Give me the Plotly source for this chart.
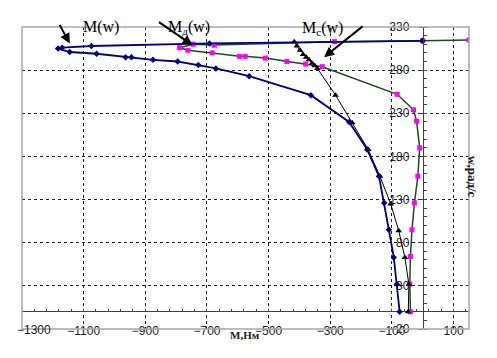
import plotly.graph_objects as go

# --- data ---
# M(w) : blue, diamonds
m_x = [-75, -84, -94, -110, -125, -142, -180, -239, -363, -563, -671, -728, -795, -875, -945, -964,
       -1058, -1145, -1183, -1170, -1075, -692, -2]
m_y = [0, 32, 63, 95, 126, 157, 188, 220, 251, 273, 282, 286, 290, 292, 295, 295,
       299, 301, 305, 306, 308, 311, 314]

# Mд(w) : dark green, magenta squares
md_x = [-40, -42, -40, -35, -27, -16, -10, -20, -30, -83, -326, -380, -441, -511, -576, -595,
        -683, -762, -789, -745, -676, -286, 0, 150]
md_y = [0, 32, 64, 95, 126, 157, 190, 221, 234, 252, 284, 287, 290, 294, 296, 296,
        300, 303, 306, 310, 309, 313, 314, 315]

# Mc(w) : black, triangles
mc_x = [-47, -45, -58, -78, -104, -139, -177, -229, -283, -342, -350, -359, -369, -378, -388,
        -398, -408, -417]
mc_y = [0, 32, 63, 94, 125, 157, 188, 219, 251, 282, 285, 288, 292, 295, 298,
        303, 308, 313]

x_ticks = [-1300, -1100, -900, -700, -500, -300, -100, 100]
x_ticktext = ["", "−1100", "−900", "−700", "−500", "−300", "−100", "100"]  # −1300 placed as annotation (edge)
y_ticks = [-20, 30, 80, 130, 180, 230, 280, 330]
x_range = [-1300, 150]
y_range = [-20, 330]

fig = go.Figure()

fig.add_trace(go.Scatter(x=md_x, y=md_y, mode="lines+markers",
                         line=dict(color="#1f4a1f", width=1.5),
                         marker=dict(symbol="square", size=5, color="#ff00ff"),
                         showlegend=False, hoverinfo="skip"))
fig.add_trace(go.Scatter(x=mc_x, y=mc_y, mode="lines+markers",
                         line=dict(color="#000000", width=1),
                         marker=dict(symbol="triangle-up", size=6, color="#000000"),
                         showlegend=False, hoverinfo="skip"))
fig.add_trace(go.Scatter(x=m_x, y=m_y, mode="lines+markers",
                         line=dict(color="#00007a", width=1.8),
                         marker=dict(symbol="diamond", size=5, color="#00007a"),
                         showlegend=False, hoverinfo="skip"))
# carrier for the minor-tick axis on the w=0 line
fig.add_trace(go.Scatter(x=[None], y=[None], xaxis="x2", showlegend=False, hoverinfo="skip"))

grid = dict(showgrid=True, gridcolor="#202020", gridwidth=1, griddash="3px,3px")
tickfont = dict(family="Liberation Sans, Arial", size=12, color="#202020")

# page body has an 8px margin, so the figure is offset by 8px; compensate in margins
fig.update_layout(
    template="none",
    width=497, height=358,
    margin=dict(l=14, r=36, t=19, b=37, autoexpand=False),
    paper_bgcolor="white", plot_bgcolor="white",
    xaxis=dict(range=x_range, tickvals=x_ticks, ticktext=x_ticktext, anchor="free", position=0.022,
               automargin=False, ticklabeloverflow="allow",
               showline=False, zeroline=False, ticks="", tickfont=tickfont, **grid),
    xaxis2=dict(range=x_range, overlaying="x", anchor="free", position=20 / 350,
                automargin=False,
                showgrid=False, zeroline=False, showticklabels=False, showline=False,
                ticks="inside", ticklen=3, tickcolor="#404040", tick0=-1300, dtick=40),
    yaxis=dict(range=y_range, tickvals=y_ticks, anchor="free",
               position=1300 / 1450, side="left", automargin=False,
               ticklabeloverflow="allow", ticklabelstandoff=7,
               showline=True, linecolor="#404040", linewidth=1,
               ticks="outside", ticklen=4, tickcolor="#404040",
               minor=dict(ticks="inside", ticklen=3, dtick=10, tick0=0, tickcolor="#404040"),
               zeroline=True, zerolinecolor="#404040", zerolinewidth=1.2,
               tickfont=tickfont, **grid),
    shapes=[dict(type="rect", xref="paper", yref="paper", x0=0, y0=0, x1=1, y1=1,
                 line=dict(color="#a8a8a8", width=1.5), layer="above")],
)

serif = dict(family="Liberation Serif, Times New Roman", size=16, color="black")
ann = [
    dict(x=0.132, y=1.036, xref="paper", yref="paper", text="M(w)", showarrow=False, font=serif),
    dict(x=0.374, y=1.036, xref="paper", yref="paper", text="M<sub>д</sub>(w)", showarrow=False, font=serif),
    dict(x=0.723, y=1.033, xref="paper", yref="paper", text="M<sub>c</sub>(w)", showarrow=False, font=serif),
    dict(x=-1145, y=311, xref="x", yref="y", text="", showarrow=True, ax=-11, ay=-20,
         arrowhead=2, arrowsize=1, arrowwidth=2, arrowcolor="black"),
    dict(x=-747, y=309, xref="x", yref="y", text="", showarrow=True, ax=-35, ay=-24,
         arrowhead=2, arrowsize=1, arrowwidth=2, arrowcolor="black"),
    dict(x=-320, y=295, xref="x", yref="y", text="", showarrow=True, ax=40, ay=-32,
         arrowhead=2, arrowsize=1, arrowwidth=2, arrowcolor="black"),
    dict(x=1.031, y=0.503, xref="paper", yref="paper", text="<b>w,рад/с</b>", textangle=90,
         showarrow=False, font=dict(family="Liberation Serif", size=13, color="#202020")),
    dict(x=0.499, y=-0.045, xref="paper", yref="paper", text="<b>M,Нм</b>",
         showarrow=False, font=dict(family="Liberation Serif", size=11, color="#202020")),
    dict(x=-0.0125, y=-0.003, xref="paper", yref="paper", text="−1300", xanchor="left",
         yanchor="middle", showarrow=False, borderpad=0, font=tickfont),
]
fig.update_layout(annotations=ann)

fig.write_html("out.html")
